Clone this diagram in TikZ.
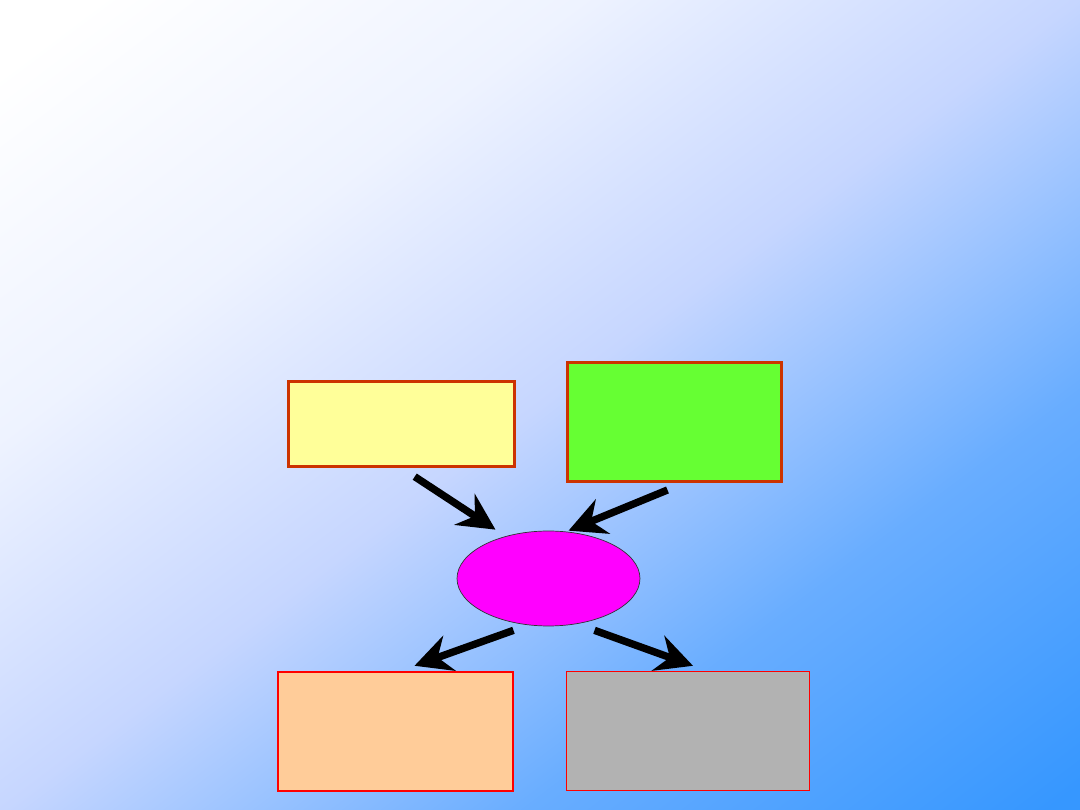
\documentclass[tikz,border=0pt]{standalone}
\usetikzlibrary{arrows.meta,shapes.geometric}
\definecolor{bgblue}{RGB}{54,151,255}
\definecolor{bgmid}{RGB}{198,214,255}
\definecolor{rim}{RGB}{204,51,0}
\definecolor{lemon}{RGB}{255,255,153}
\definecolor{lime}{RGB}{102,255,51}
\definecolor{peach}{RGB}{255,204,153}
\definecolor{stone}{RGB}{178,178,178}
\definecolor{hubfill}{RGB}{255,0,255}
\pgfdeclareverticalshading{bgfade}{100bp}{color(0bp)=(bgblue); color(16bp)=(bgblue); color(33bp)=(bgblue!65!bgmid); color(50bp)=(bgmid); color(66bp)=(white!70!bgmid); color(82bp)=(white); color(100bp)=(white)}
\tikzset{
	topbox/.style={rectangle,draw=rim,line width=1.7pt,inner sep=0pt},
	lowbox/.style={rectangle,draw=red,inner sep=0pt},
	hubnode/.style={ellipse,draw=black!80,fill=hubfill,line width=0.4pt,inner sep=0pt,minimum width=3.66cm,minimum height=1.9cm},
	flow/.style={line width=4.2pt,-{Stealth[length=21pt,width=21pt,inset=7pt]}}
}
\begin{document}
\begin{tikzpicture}[x=0.02cm,y=-0.02cm]
		\useasboundingbox (0,0) rectangle (1080,810);
		\shade[shading=bgfade,shading angle=37] (0,0) rectangle (1080,810);
		% the four boxes and the hub
		\node[topbox,fill=lemon,minimum width=4.52cm,minimum height=1.7cm] (lemonbox) at (401.5,424) {};
		\node[topbox,fill=lime,minimum width=4.28cm,minimum height=2.38cm] (limebox) at (674.5,422) {};
		\node[hubnode] (hub) at (548.5,578.5) {};
		\node[lowbox,fill=peach,line width=1.1pt,minimum width=4.71cm,minimum height=2.39cm] (peachbox) at (395.5,731.5) {};
		\node[lowbox,fill=stone,line width=0.8pt,minimum width=4.86cm,minimum height=2.38cm] (stonebox) at (688,731) {};
		% free ends of the arrows
		\coordinate (inA) at ([shift={(-53,-1)}]hub.north);
		\coordinate (inB) at ([shift={(20,0)}]hub.north);
		\coordinate (outA) at ([shift={(19,-5)}]peachbox.north);
		\coordinate (outB) at ([shift={(5,-5)}]stonebox.north);
		\draw[flow,shorten <=9pt] (lemonbox.south) -- (inA);
		\draw[flow] ([shift={(-7,7)}]limebox.south) -- (inB);
		\draw[flow] ([shift={(-35,4)}]hub.south) -- (outA);
		\draw[flow] ([shift={(46,4)}]hub.south) -- (outB);
	\end{tikzpicture}
\end{document}
